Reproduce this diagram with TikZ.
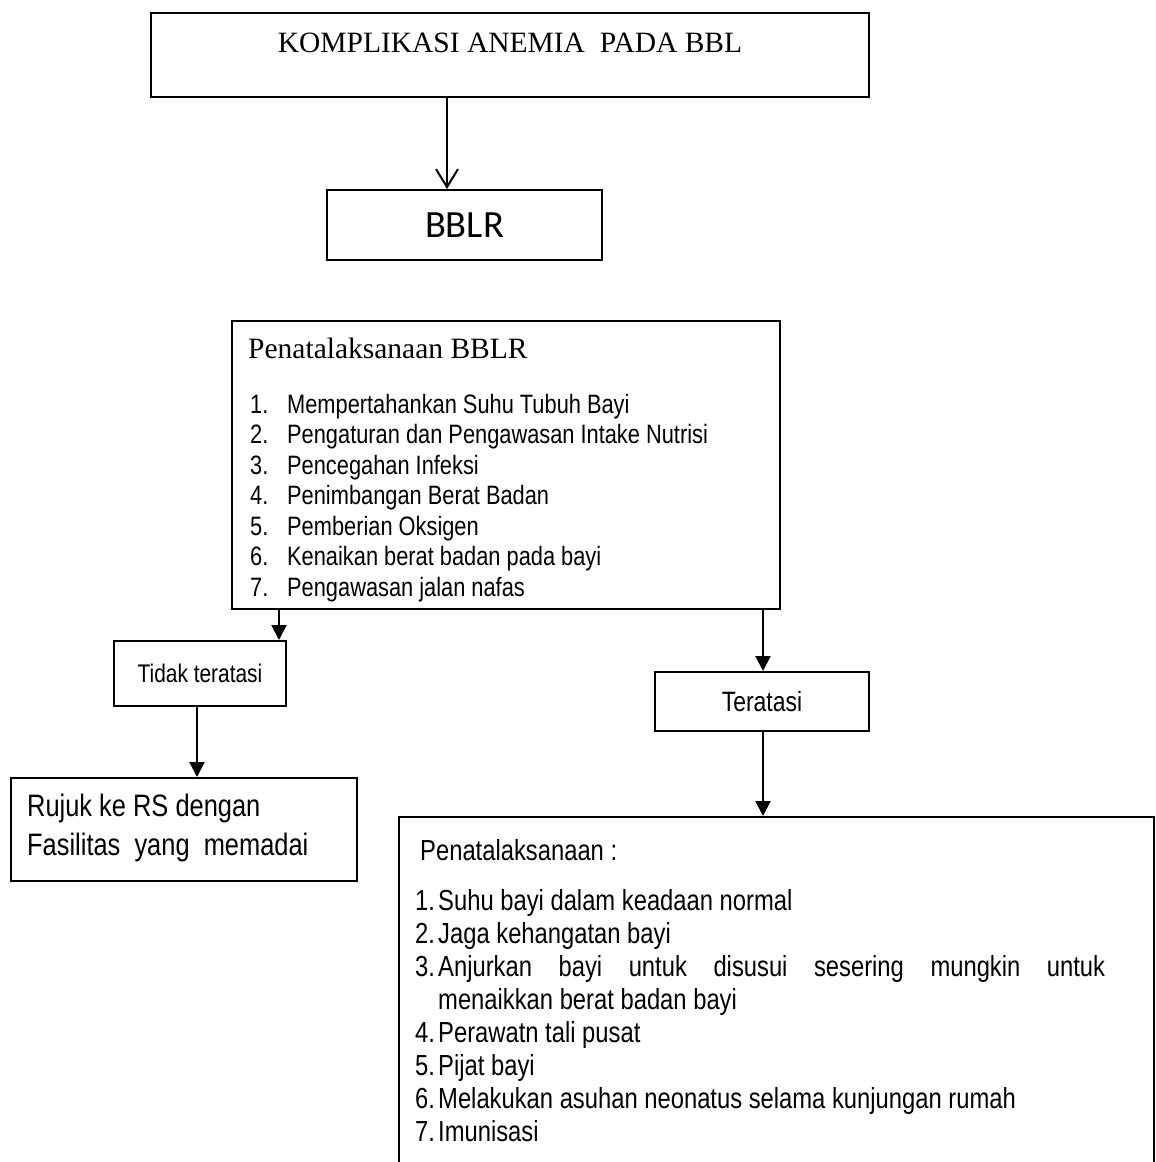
\documentclass[tikz,border=0pt]{standalone}
\usepackage{fontspec}
\setmainfont{Liberation Serif}
\newfontfamily\narrowsans[FakeStretch=0.82]{Liberation Sans}
\newfontfamily\calsans{Carlito}
\usetikzlibrary{arrows.meta}

% list helpers: number in a fixed-width slot, text after it
\newlength\numwd
\newcommand\listrow[2]{\noindent\makebox[\numwd][l]{#1}#2\par}
\newcommand\hangrow[2]{\hangindent=\numwd\hangafter=1\noindent\makebox[\numwd][l]{#1}#2\par}

\begin{document}
\begin{tikzpicture}[x=1pt,y=-1pt,
  box/.style={draw, line width=2pt, inner sep=0pt, anchor=north west},
  txt/.style={inner sep=0pt, anchor=base west},
  arr/.style={line width=2pt, -{Triangle[length=15pt,width=15pt]}},
  openarr/.style={line width=2pt, -{Straight Barb[length=18pt,width=22pt,line width=2pt]}}]

\clip (0,0) rectangle (1156,1162);

% boxes
\node[box, minimum width=718pt, minimum height=84pt] (komp) at (150,12) {};
\node[box, minimum width=275pt, minimum height=70pt] (bblr) at (326,189)
  {\calsans\fontsize{38.5}{40}\selectfont BBLR};
\node[box, minimum width=548pt, minimum height=288pt] (penat) at (231,320) {};
\node[box, minimum width=172pt, minimum height=65pt] (tidak) at (113,640)
  {\narrowsans\fontsize{25.5}{28}\selectfont Tidak teratasi};
\node[box, minimum width=214pt, minimum height=59pt] (teratasi) at (654,671)
  {\narrowsans\fontsize{28}{30}\selectfont Teratasi};
\node[box, minimum width=346pt, minimum height=103pt] (rujuk) at (10,777) {};
\node[box, minimum width=755pt, minimum height=420pt] (akhir) at (398,816) {};

% texts
\node[txt, anchor=base] (kompt) at (510,52)
  {\fontsize{29.5}{34}\selectfont KOMPLIKASI ANEMIA \ PADA BBL};

\node[txt] (penath) at (248,358) {\fontsize{29.5}{34}\selectfont Penatalaksanaan BBLR};
\node[txt] (penatl) at (250,413) {\parbox[t]{520pt}{%
  \narrowsans\fontsize{26.6}{30.5}\selectfont\setlength\numwd{37pt}%
  \listrow{1.}{Mempertahankan Suhu Tubuh Bayi}
  \listrow{2.}{Pengaturan dan Pengawasan Intake Nutrisi}
  \listrow{3.}{Pencegahan Infeksi}
  \listrow{4.}{Penimbangan Berat Badan}
  \listrow{5.}{Pemberian Oksigen}
  \listrow{6.}{Kenaikan berat badan pada bayi}
  \listrow{7.}{Pengawasan jalan nafas}}};

\node[txt] (rujukt) at (27,816) {\parbox[t]{320pt}{%
  \narrowsans\fontsize{31}{39}\selectfont
  Rujuk ke RS dengan\\
  Fasilitas \ yang \ memadai}};

\node[txt] (akhirh) at (420,860) {\narrowsans\fontsize{29}{33}\selectfont Penatalaksanaan :};
\node[txt] (akhirl) at (415,910) {\parbox[t]{690pt}{%
  \narrowsans\fontsize{29}{33}\selectfont\setlength\numwd{23pt}%
  \hangrow{1.}{Suhu bayi dalam keadaan normal}
  \hangrow{2.}{Jaga kehangatan bayi}
  \hangrow{3.}{Anjurkan bayi untuk disusui sesering mungkin untuk\linebreak menaikkan berat badan bayi}
  \hangrow{4.}{Perawatn tali pusat}
  \hangrow{5.}{Pijat bayi}
  \hangrow{6.}{Melakukan asuhan neonatus selama kunjungan rumah}
  \hangrow{7.}{Imunisasi}}};

% connectors
\coordinate (xa) at (447,0);
\coordinate (xb) at (279,0);
\coordinate (xc) at (763,0);
\coordinate (xd) at (197,0);
\draw[openarr] (komp.south -| xa) -- (bblr.north -| xa);
\draw[arr] (penat.south -| xb) -- (tidak.north -| xb);
\draw[arr] (penat.south -| xc) -- (teratasi.north -| xc);
\draw[arr] (tidak.south -| xd) -- (rujuk.north -| xd);
\draw[arr] (teratasi.south -| xc) -- (akhir.north -| xc);
\end{tikzpicture}
\end{document}
